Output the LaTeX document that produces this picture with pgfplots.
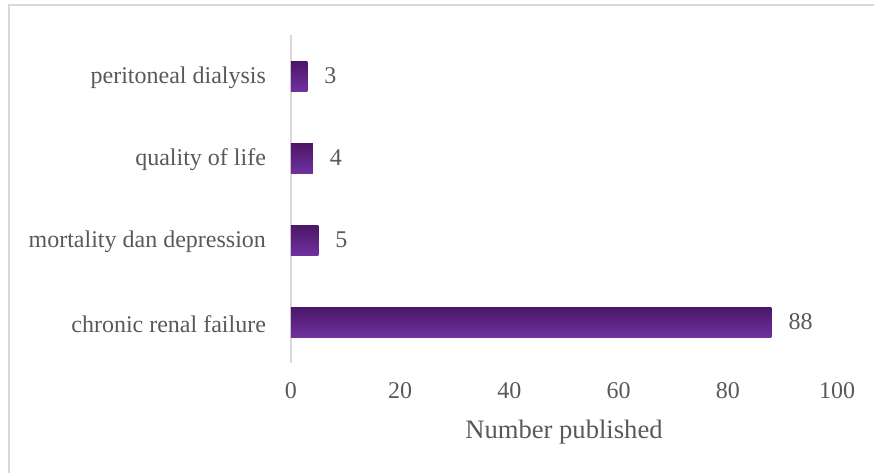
\documentclass[border=0pt]{standalone}
\usepackage{pgfplots}
\pgfplotsset{compat=1.18}
\usepackage{fontspec}
\setmainfont{Liberation Serif}
\definecolor{txt}{HTML}{595959}
\definecolor{grid}{HTML}{D9D9D9}
\definecolor{bartop}{HTML}{4A1766}
\definecolor{barbot}{HTML}{7030A0}
\begin{document}
\begin{tikzpicture}
\useasboundingbox (0,0) rectangle (437pt,236pt);
\draw[grid, line width=1pt] (4.5pt,-5pt) rectangle (445pt,233.5pt);
\begin{axis}[
  at={(145.5pt,54.5pt)}, anchor=south west,
  scale only axis, width=273pt, height=164pt,
  xmin=0, xmax=100, ymin=-0.5, ymax=3.5,
  xtick={0,20,...,100},
  ytick={0,1,2,3},
  yticklabels={chronic renal failure, mortality dan depression, quality of life, peritoneal dialysis},
  axis lines*=left,
  x axis line style={draw=none},
  y axis line style={grid, line width=1pt, -},
  major tick length=0pt,
  tick label style={font=\fontsize{12}{14}\selectfont, text=txt},
  xticklabel style={yshift=-6pt},
  yticklabel style={xshift=-9pt, yshift=-1pt},
  xlabel={Number published},
  xlabel style={font=\fontsize{13.3}{16}\selectfont, text=txt, yshift=-4pt},
  /pgf/number format/assume math mode=true,
  every axis plot/.append style={xbar, bar width=15pt, bar shift=0pt, draw=none,
    top color=bartop, bottom color=barbot, no markers,
    nodes near coords, nodes near coords align={horizontal},
    every node near coord/.append style={font=\fontsize{12}{14}\selectfont, text=txt, xshift=5pt}},
]
\addplot coordinates {(88,0)};
\addplot coordinates {(5,1)};
\addplot coordinates {(4,2)};
\addplot coordinates {(3,3)};
\end{axis}
\end{tikzpicture}
\end{document}
